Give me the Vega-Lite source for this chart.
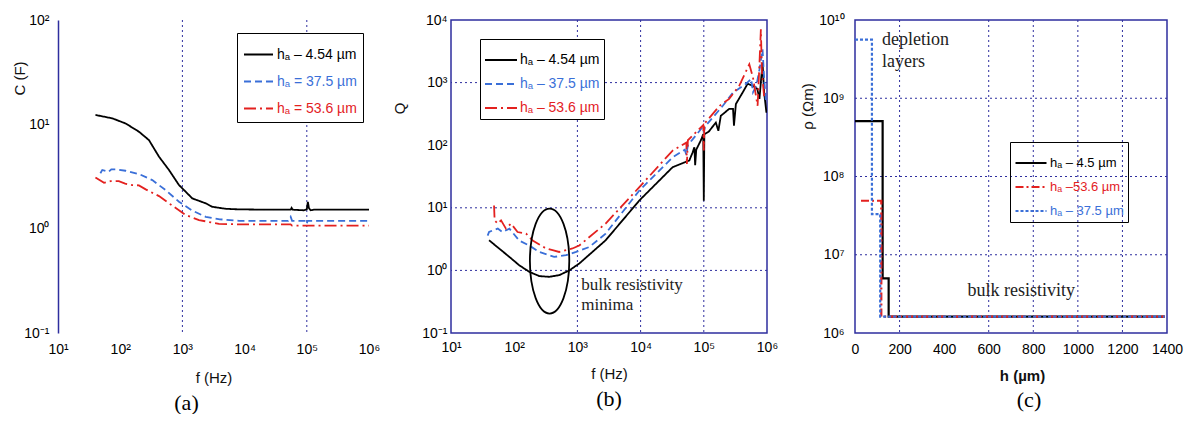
{
  "$schema": "https://vega.github.io/schema/vega-lite/v6.json",
  "padding": {"left": 12, "top": 12, "right": 0, "bottom": 0},
  "background": "white",
  "datasets": {
    "a": [
      {"f": 40, "C": 12.3, "s": "hₐ – 4.54 µm"}, {"f": 75, "C": 11.4, "s": "hₐ – 4.54 µm"}, {"f": 122, "C": 10.2, "s": "hₐ – 4.54 µm"},
      {"f": 200, "C": 8.5, "s": "hₐ – 4.54 µm"}, {"f": 290, "C": 7.06, "s": "hₐ – 4.54 µm"}, {"f": 421, "C": 4.89, "s": "hₐ – 4.54 µm"},
      {"f": 609, "C": 3.65, "s": "hₐ – 4.54 µm"}, {"f": 881, "C": 2.62, "s": "hₐ – 4.54 µm"}, {"f": 1443, "C": 1.95, "s": "hₐ – 4.54 µm"},
      {"f": 2370, "C": 1.75, "s": "hₐ – 4.54 µm"}, {"f": 3020, "C": 1.62, "s": "hₐ – 4.54 µm"}, {"f": 5000, "C": 1.55, "s": "hₐ – 4.54 µm"},
      {"f": 8130, "C": 1.53, "s": "hₐ – 4.54 µm"}, {"f": 30000, "C": 1.52, "s": "hₐ – 4.54 µm"}, {"f": 55000, "C": 1.52, "s": "hₐ – 4.54 µm"},
      {"f": 57000, "C": 1.58, "s": "hₐ – 4.54 µm"}, {"f": 59000, "C": 1.52, "s": "hₐ – 4.54 µm"}, {"f": 90000, "C": 1.5, "s": "hₐ – 4.54 µm"},
      {"f": 100000, "C": 1.53, "s": "hₐ – 4.54 µm"}, {"f": 104000, "C": 1.81, "s": "hₐ – 4.54 µm"}, {"f": 108000, "C": 1.58, "s": "hₐ – 4.54 µm"},
      {"f": 115000, "C": 1.5, "s": "hₐ – 4.54 µm"}, {"f": 130000, "C": 1.52, "s": "hₐ – 4.54 µm"}, {"f": 300000, "C": 1.52, "s": "hₐ – 4.54 µm"},
      {"f": 1000000, "C": 1.52, "s": "hₐ – 4.54 µm"},
      {"f": 48, "C": 3.4, "s": "hₐ = 37.5 µm"}, {"f": 51.5, "C": 3.65, "s": "hₐ = 37.5 µm"}, {"f": 65, "C": 3.5, "s": "hₐ = 37.5 µm"},
      {"f": 72, "C": 3.7, "s": "hₐ = 37.5 µm"}, {"f": 85, "C": 3.71, "s": "hₐ = 37.5 µm"}, {"f": 122, "C": 3.59, "s": "hₐ = 37.5 µm"},
      {"f": 200, "C": 3.34, "s": "hₐ = 37.5 µm"}, {"f": 328, "C": 2.92, "s": "hₐ = 37.5 µm"}, {"f": 538, "C": 2.34, "s": "hₐ = 37.5 µm"},
      {"f": 881, "C": 1.81, "s": "hₐ = 37.5 µm"}, {"f": 1443, "C": 1.49, "s": "hₐ = 37.5 µm"}, {"f": 2370, "C": 1.3, "s": "hₐ = 37.5 µm"},
      {"f": 4000, "C": 1.23, "s": "hₐ = 37.5 µm"}, {"f": 8130, "C": 1.19, "s": "hₐ = 37.5 µm"}, {"f": 50000, "C": 1.19, "s": "hₐ = 37.5 µm"},
      {"f": 55000, "C": 1.3, "s": "hₐ = 37.5 µm"}, {"f": 58000, "C": 1.19, "s": "hₐ = 37.5 µm"}, {"f": 98000, "C": 1.19, "s": "hₐ = 37.5 µm"},
      {"f": 100000, "C": 1.12, "s": "hₐ = 37.5 µm"}, {"f": 103000, "C": 1.19, "s": "hₐ = 37.5 µm"}, {"f": 1000000, "C": 1.19, "s": "hₐ = 37.5 µm"},
      {"f": 40, "C": 3.1, "s": "hₐ = 53.6 µm"}, {"f": 55, "C": 2.75, "s": "hₐ = 53.6 µm"}, {"f": 70, "C": 2.85, "s": "hₐ = 53.6 µm"},
      {"f": 95, "C": 2.86, "s": "hₐ = 53.6 µm"}, {"f": 120, "C": 2.7, "s": "hₐ = 53.6 µm"}, {"f": 157, "C": 2.62, "s": "hₐ = 53.6 µm"},
      {"f": 200, "C": 2.6, "s": "hₐ = 53.6 µm"}, {"f": 257, "C": 2.38, "s": "hₐ = 53.6 µm"}, {"f": 421, "C": 2.05, "s": "hₐ = 53.6 µm"},
      {"f": 609, "C": 1.75, "s": "hₐ = 53.6 µm"}, {"f": 1130, "C": 1.35, "s": "hₐ = 53.6 µm"}, {"f": 1850, "C": 1.21, "s": "hₐ = 53.6 µm"},
      {"f": 3870, "C": 1.11, "s": "hₐ = 53.6 µm"}, {"f": 8130, "C": 1.1, "s": "hₐ = 53.6 µm"}, {"f": 55000, "C": 1.1, "s": "hₐ = 53.6 µm"},
      {"f": 58000, "C": 1.07, "s": "hₐ = 53.6 µm"}, {"f": 1000000, "C": 1.07, "s": "hₐ = 53.6 µm"}
    ],
    "b": [
      {"f": 40, "Q": 3.03, "s": "hₐ – 4.54 µm"}, {"f": 58, "Q": 2.23, "s": "hₐ – 4.54 µm"}, {"f": 84, "Q": 1.64, "s": "hₐ – 4.54 µm"},
      {"f": 120, "Q": 1.21, "s": "hₐ – 4.54 µm"}, {"f": 173, "Q": 0.95, "s": "hₐ – 4.54 µm"}, {"f": 250, "Q": 0.81, "s": "hₐ – 4.54 µm"},
      {"f": 359, "Q": 0.79, "s": "hₐ – 4.54 µm"}, {"f": 517, "Q": 0.84, "s": "hₐ – 4.54 µm"}, {"f": 745, "Q": 1.0, "s": "hₐ – 4.54 µm"},
      {"f": 1072, "Q": 1.29, "s": "hₐ – 4.54 µm"}, {"f": 2800, "Q": 3.03, "s": "hₐ – 4.54 µm"}, {"f": 9560, "Q": 13.1, "s": "hₐ – 4.54 µm"},
      {"f": 32100, "Q": 44.5, "s": "hₐ – 4.54 µm"}, {"f": 59000, "Q": 57, "s": "hₐ – 4.54 µm"}, {"f": 66000, "Q": 75, "s": "hₐ – 4.54 µm"},
      {"f": 71000, "Q": 93, "s": "hₐ – 4.54 µm"}, {"f": 73000, "Q": 48, "s": "hₐ – 4.54 µm"}, {"f": 76000, "Q": 85, "s": "hₐ – 4.54 µm"},
      {"f": 90000, "Q": 120, "s": "hₐ – 4.54 µm"}, {"f": 98000, "Q": 150, "s": "hₐ – 4.54 µm"}, {"f": 100000, "Q": 13, "s": "hₐ – 4.54 µm"},
      {"f": 102000, "Q": 150, "s": "hₐ – 4.54 µm"}, {"f": 120000, "Q": 165, "s": "hₐ – 4.54 µm"}, {"f": 155000, "Q": 230, "s": "hₐ – 4.54 µm"},
      {"f": 170000, "Q": 170, "s": "hₐ – 4.54 µm"}, {"f": 186000, "Q": 295, "s": "hₐ – 4.54 µm"}, {"f": 252000, "Q": 380, "s": "hₐ – 4.54 µm"},
      {"f": 290000, "Q": 380, "s": "hₐ – 4.54 µm"}, {"f": 300000, "Q": 205, "s": "hₐ – 4.54 µm"}, {"f": 322000, "Q": 455, "s": "hₐ – 4.54 µm"},
      {"f": 410000, "Q": 690, "s": "hₐ – 4.54 µm"}, {"f": 494000, "Q": 960, "s": "hₐ – 4.54 µm"}, {"f": 590000, "Q": 890, "s": "hₐ – 4.54 µm"},
      {"f": 700000, "Q": 800, "s": "hₐ – 4.54 µm"}, {"f": 760000, "Q": 550, "s": "hₐ – 4.54 µm"}, {"f": 850000, "Q": 2090, "s": "hₐ – 4.54 µm"},
      {"f": 900000, "Q": 700, "s": "hₐ – 4.54 µm"}, {"f": 980000, "Q": 330, "s": "hₐ – 4.54 µm"},
      {"f": 38, "Q": 3.6, "s": "hₐ – 37.5 µm"}, {"f": 40, "Q": 4.1, "s": "hₐ – 37.5 µm"}, {"f": 47, "Q": 4.4, "s": "hₐ – 37.5 µm"},
      {"f": 55, "Q": 4.65, "s": "hₐ – 37.5 µm"}, {"f": 65, "Q": 4.1, "s": "hₐ – 37.5 µm"}, {"f": 84, "Q": 4.65, "s": "hₐ – 37.5 µm"},
      {"f": 120, "Q": 3.0, "s": "hₐ – 37.5 µm"}, {"f": 173, "Q": 2.5, "s": "hₐ – 37.5 µm"}, {"f": 250, "Q": 1.97, "s": "hₐ – 37.5 µm"},
      {"f": 428, "Q": 1.64, "s": "hₐ – 37.5 µm"}, {"f": 660, "Q": 1.75, "s": "hₐ – 37.5 µm"}, {"f": 955, "Q": 1.97, "s": "hₐ – 37.5 µm"},
      {"f": 1550, "Q": 2.37, "s": "hₐ – 37.5 µm"}, {"f": 2800, "Q": 3.87, "s": "hₐ – 37.5 µm"}, {"f": 9560, "Q": 18.9, "s": "hₐ – 37.5 µm"},
      {"f": 32100, "Q": 64, "s": "hₐ – 37.5 µm"}, {"f": 50000, "Q": 85, "s": "hₐ – 37.5 µm"}, {"f": 53000, "Q": 70, "s": "hₐ – 37.5 µm"},
      {"f": 56000, "Q": 100, "s": "hₐ – 37.5 µm"}, {"f": 95000, "Q": 193, "s": "hₐ – 37.5 µm"}, {"f": 100000, "Q": 160, "s": "hₐ – 37.5 µm"},
      {"f": 105000, "Q": 200, "s": "hₐ – 37.5 µm"}, {"f": 200000, "Q": 426, "s": "hₐ – 37.5 µm"}, {"f": 288000, "Q": 690, "s": "hₐ – 37.5 µm"},
      {"f": 468000, "Q": 960, "s": "hₐ – 37.5 µm"}, {"f": 562000, "Q": 1150, "s": "hₐ – 37.5 µm"}, {"f": 600000, "Q": 700, "s": "hₐ – 37.5 µm"},
      {"f": 680000, "Q": 900, "s": "hₐ – 37.5 µm"}, {"f": 760000, "Q": 1620, "s": "hₐ – 37.5 µm"}, {"f": 850000, "Q": 3400, "s": "hₐ – 37.5 µm"},
      {"f": 900000, "Q": 1200, "s": "hₐ – 37.5 µm"}, {"f": 960000, "Q": 500, "s": "hₐ – 37.5 µm"},
      {"f": 48, "Q": 10.9, "s": "hₐ – 53.6 µm"}, {"f": 49, "Q": 6.3, "s": "hₐ – 53.6 µm"}, {"f": 55, "Q": 5.6, "s": "hₐ – 53.6 µm"},
      {"f": 62, "Q": 6.3, "s": "hₐ – 53.6 µm"}, {"f": 74, "Q": 4.65, "s": "hₐ – 53.6 µm"}, {"f": 89, "Q": 5.6, "s": "hₐ – 53.6 µm"},
      {"f": 113, "Q": 4.1, "s": "hₐ – 53.6 µm"}, {"f": 154, "Q": 3.87, "s": "hₐ – 53.6 µm"}, {"f": 196, "Q": 3.0, "s": "hₐ – 53.6 µm"},
      {"f": 250, "Q": 2.6, "s": "hₐ – 53.6 µm"}, {"f": 318, "Q": 2.24, "s": "hₐ – 53.6 µm"}, {"f": 405, "Q": 2.1, "s": "hₐ – 53.6 µm"},
      {"f": 515, "Q": 1.97, "s": "hₐ – 53.6 µm"}, {"f": 835, "Q": 2.24, "s": "hₐ – 53.6 µm"}, {"f": 1070, "Q": 2.5, "s": "hₐ – 53.6 µm"},
      {"f": 2800, "Q": 5.6, "s": "hₐ – 53.6 µm"}, {"f": 9560, "Q": 21.4, "s": "hₐ – 53.6 µm"}, {"f": 32100, "Q": 82, "s": "hₐ – 53.6 µm"},
      {"f": 53000, "Q": 110, "s": "hₐ – 53.6 µm"}, {"f": 54000, "Q": 50, "s": "hₐ – 53.6 µm"}, {"f": 56000, "Q": 120, "s": "hₐ – 53.6 µm"},
      {"f": 98000, "Q": 210, "s": "hₐ – 53.6 µm"}, {"f": 100000, "Q": 82, "s": "hₐ – 53.6 µm"}, {"f": 102000, "Q": 220, "s": "hₐ – 53.6 µm"},
      {"f": 178000, "Q": 426, "s": "hₐ – 53.6 µm"}, {"f": 252000, "Q": 550, "s": "hₐ – 53.6 µm"}, {"f": 363000, "Q": 890, "s": "hₐ – 53.6 µm"},
      {"f": 525000, "Q": 1960, "s": "hₐ – 53.6 µm"}, {"f": 600000, "Q": 1200, "s": "hₐ – 53.6 µm"}, {"f": 710000, "Q": 426, "s": "hₐ – 53.6 µm"},
      {"f": 760000, "Q": 2000, "s": "hₐ – 53.6 µm"}, {"f": 800000, "Q": 7100, "s": "hₐ – 53.6 µm"}, {"f": 830000, "Q": 1500, "s": "hₐ – 53.6 µm"},
      {"f": 900000, "Q": 600, "s": "hₐ – 53.6 µm"}, {"f": 960000, "Q": 615, "s": "hₐ – 53.6 µm"}
    ],
    "c": [
      {"h": 0, "r": 510000000, "s": "hₐ – 4.5 µm"}, {"h": 124, "r": 5000000, "s": "hₐ – 4.5 µm"},
      {"h": 151, "r": 1620000, "s": "hₐ – 4.5 µm"}, {"h": 1390, "r": 1620000, "s": "hₐ – 4.5 µm"},
      {"h": 27, "r": 49000000, "s": "hₐ –53.6 µm"}, {"h": 118, "r": 1620000, "s": "hₐ –53.6 µm"},
      {"h": 1390, "r": 1620000, "s": "hₐ –53.6 µm"},
      {"h": 0, "r": 5600000000, "s": "hₐ – 37.5 µm"}, {"h": 76, "r": 33000000, "s": "hₐ – 37.5 µm"},
      {"h": 113, "r": 1620000, "s": "hₐ – 37.5 µm"}, {"h": 1390, "r": 1620000, "s": "hₐ – 37.5 µm"}
    ]
  },
  "hconcat": [
    {
      "width": 311, "height": 313,
      "view": {"stroke": null},
      "title": {"text": "(a)", "orient": "bottom", "dx": -27, "offset": 8},
      "layer": [
        {
          "data": {"values": [{"f": 1000}, {"f": 100000}]},
          "mark": {"type": "rule", "color": "#2e2e9e", "strokeDash": [2, 3], "strokeWidth": 1},
          "encoding": {"x": {"field": "f", "type": "quantitative", "scale": {"type": "log", "domain": [10, 1000000], "nice": false}}}
        },
        {
          "data": {"name": "a"},
          "mark": {"type": "line", "strokeWidth": 1.8, "clip": true},
          "encoding": {
            "x": {"field": "f", "type": "quantitative", "scale": {"type": "log", "domain": [10, 1000000], "nice": false},
              "axis": {"title": "f (Hz)", "values": [10, 100, 1000, 10000, 100000, 1000000], "labelPadding": 9, "titlePadding": 14,
                "labelExpr": "'10' + replace(replace(replace(replace(replace(replace(replace(replace(replace(replace(replace(toString(round(log(datum.value)/LN10)),'-','⁻'),'0','⁰'),'1','¹'),'2','²'),'3','³'),'4','⁴'),'5','⁵'),'6','⁶'),'7','⁷'),'8','⁸'),'9','⁹')"}},
            "y": {"field": "C", "type": "quantitative", "scale": {"type": "log", "domain": [0.1, 100], "nice": false},
              "axis": {"title": "C (F)", "values": [0.1, 1, 10, 100], "labelPadding": 9, "domain": true, "domainColor": "#2e2e9e", "domainWidth": 1.5,
                "titleX": -39, "titleY": 58, "titleAngle": 270, "titleAlign": "center", "titleBaseline": "middle",
                "labelExpr": "'10' + replace(replace(replace(replace(replace(replace(replace(replace(replace(replace(replace(toString(round(log(datum.value)/LN10)),'-','⁻'),'0','⁰'),'1','¹'),'2','²'),'3','³'),'4','⁴'),'5','⁵'),'6','⁶'),'7','⁷'),'8','⁸'),'9','⁹')"}},
            "color": {"field": "s", "type": "nominal",
              "scale": {"domain": ["hₐ – 4.54 µm", "hₐ = 37.5 µm", "hₐ = 53.6 µm"], "range": ["#000000", "#3a6fd8", "#e3211f"]},
              "legend": {"orient": "none", "legendX": 179, "legendY": 13, "title": null, "symbolType": "stroke", "symbolSize": 841, "symbolStrokeWidth": 1.8,
                "labelFontSize": 14, "strokeColor": "#000", "fillColor": "#fff", "padding": 6, "rowPadding": 4, "labelOffset": 3,
                "labelColor": {"expr": "indexof(datum.value,'37.5')>=0 ? '#3a6fd8' : indexof(datum.value,'53.6')>=0 ? '#e3211f' : '#000'"}}},
            "strokeDash": {"field": "s", "type": "nominal",
              "scale": {"domain": ["hₐ – 4.54 µm", "hₐ = 37.5 µm", "hₐ = 53.6 µm"], "range": [[1, 0], [7, 4], [12, 4, 2, 4]]},
              "legend": {"orient": "none", "legendX": 179, "legendY": 13, "title": null, "symbolType": "stroke", "symbolSize": 841, "symbolStrokeWidth": 1.8,
                "labelFontSize": 14, "strokeColor": "#000", "fillColor": "#fff", "padding": 6, "rowPadding": 4, "labelOffset": 3,
                "labelColor": {"expr": "indexof(datum.value,'37.5')>=0 ? '#3a6fd8' : indexof(datum.value,'53.6')>=0 ? '#e3211f' : '#000'"}}}
          }
        }
      ]
    },
    {
      "spacing": 88,
      "bounds": "flush",
      "resolve": {"scale": {"x": "independent", "y": "independent", "color": "independent", "strokeDash": "independent"}, "legend": {"color": "independent", "strokeDash": "independent"}},
      "hconcat": [
        {
          "width": 316, "height": 313,
          "title": {"text": "(b)", "orient": "bottom", "offset": 8},
          "layer": [
            {
              "data": {"values": [{"f": 1000}, {"f": 10000}, {"f": 100000}]},
              "mark": {"type": "rule", "color": "#2e2e9e", "strokeDash": [2, 3], "strokeWidth": 1},
              "encoding": {"x": {"field": "f", "type": "quantitative", "scale": {"type": "log", "domain": [10, 1000000], "nice": false}}}
            },
            {
              "data": {"values": [{"Q": 1}, {"Q": 10}, {"Q": 1000}]},
              "mark": {"type": "rule", "color": "#2e2e9e", "strokeDash": [2, 3], "strokeWidth": 1},
              "encoding": {"y": {"field": "Q", "type": "quantitative", "scale": {"type": "log", "domain": [0.1, 10000], "nice": false}}}
            },
            {
              "data": {"name": "b"},
              "mark": {"type": "line", "strokeWidth": 1.8, "clip": true},
              "encoding": {
                "x": {"field": "f", "type": "quantitative", "scale": {"type": "log", "domain": [10, 1000000], "nice": false},
                  "axis": {"title": "f (Hz)", "values": [10, 100, 1000, 10000, 100000, 1000000], "labelPadding": 7, "titlePadding": 12,
                    "labelExpr": "'10' + replace(replace(replace(replace(replace(replace(replace(replace(replace(replace(replace(toString(round(log(datum.value)/LN10)),'-','⁻'),'0','⁰'),'1','¹'),'2','²'),'3','³'),'4','⁴'),'5','⁵'),'6','⁶'),'7','⁷'),'8','⁸'),'9','⁹')"}},
                "y": {"field": "Q", "type": "quantitative", "scale": {"type": "log", "domain": [0.1, 10000], "nice": false},
                  "axis": {"title": "Q", "values": [0.1, 1, 10, 100, 1000, 10000], "labelPadding": 4,
                    "titleX": -52, "titleY": 88, "titleAngle": 270, "titleAlign": "center", "titleBaseline": "middle",
                    "labelExpr": "'10' + replace(replace(replace(replace(replace(replace(replace(replace(replace(replace(replace(toString(round(log(datum.value)/LN10)),'-','⁻'),'0','⁰'),'1','¹'),'2','²'),'3','³'),'4','⁴'),'5','⁵'),'6','⁶'),'7','⁷'),'8','⁸'),'9','⁹')"}},
                "color": {"field": "s", "type": "nominal",
                  "scale": {"domain": ["hₐ – 4.54 µm", "hₐ – 37.5 µm", "hₐ – 53.6 µm"], "range": ["#000000", "#3a6fd8", "#e3211f"]},
                  "legend": {"orient": "none", "legendX": 29, "legendY": 19, "title": null, "symbolType": "stroke", "symbolSize": 1024, "symbolStrokeWidth": 1.8,
                    "labelFontSize": 14, "strokeColor": "#000", "fillColor": "#fff", "padding": 4, "rowPadding": 0, "labelOffset": 2,
                    "labelColor": {"expr": "indexof(datum.value,'37.5')>=0 ? '#3a6fd8' : indexof(datum.value,'53.6')>=0 ? '#e3211f' : '#000'"}}},
                "strokeDash": {"field": "s", "type": "nominal",
                  "scale": {"domain": ["hₐ – 4.54 µm", "hₐ – 37.5 µm", "hₐ – 53.6 µm"], "range": [[1, 0], [7, 4], [12, 4, 2, 4]]},
                  "legend": {"orient": "none", "legendX": 29, "legendY": 19, "title": null, "symbolType": "stroke", "symbolSize": 1024, "symbolStrokeWidth": 1.8,
                    "labelFontSize": 14, "strokeColor": "#000", "fillColor": "#fff", "padding": 4, "rowPadding": 0, "labelOffset": 2,
                    "labelColor": {"expr": "indexof(datum.value,'37.5')>=0 ? '#3a6fd8' : indexof(datum.value,'53.6')>=0 ? '#e3211f' : '#000'"}}}
              }
            },
            {
              "data": {"values": [{"f": 363, "Q": 1.41}]},
              "mark": {"type": "point", "shape": "M0,-1A0.375,1 0 1,1 0,1A0.375,1 0 1,1 0,-1Z", "size": 11025, "filled": false, "stroke": "#000", "strokeWidth": 1.8, "opacity": 1},
              "encoding": {"x": {"field": "f", "type": "quantitative"}, "y": {"field": "Q", "type": "quantitative"}}
            },
            {
              "data": {"values": [{"f": 1153, "Q": 0.58, "t": "bulk resistivity"}, {"f": 1153, "Q": 0.279, "t": "minima"}]},
              "mark": {"type": "text", "align": "left", "baseline": "middle", "font": "Liberation Serif", "fontSize": 17, "color": "#222"},
              "encoding": {"x": {"field": "f", "type": "quantitative"}, "y": {"field": "Q", "type": "quantitative"}, "text": {"field": "t"}}
            }
          ]
        },
        {
          "width": 312, "height": 313,
          "title": {"text": "(c)", "orient": "bottom", "dx": 18, "offset": 7},
          "layer": [
            {
              "data": {"values": [{"h": 200}, {"h": 600}, {"h": 800}, {"h": 1000}, {"h": 1200}]},
              "mark": {"type": "rule", "color": "#2e2e9e", "strokeDash": [2, 3], "strokeWidth": 1},
              "encoding": {"x": {"field": "h", "type": "quantitative", "scale": {"domain": [0, 1400], "nice": false}}}
            },
            {
              "data": {"values": [{"r": 10000000}, {"r": 100000000}, {"r": 1000000000}]},
              "mark": {"type": "rule", "color": "#2e2e9e", "strokeDash": [2, 3], "strokeWidth": 1},
              "encoding": {"y": {"field": "r", "type": "quantitative", "scale": {"type": "log", "domain": [1000000, 10000000000], "nice": false}}}
            },
            {
              "data": {"name": "c"},
              "mark": {"type": "line", "strokeWidth": 2.2, "interpolate": "step-after", "clip": true},
              "encoding": {
                "x": {"field": "h", "type": "quantitative", "scale": {"domain": [0, 1400], "nice": false},
                  "axis": {"title": "h (µm)", "values": [0, 200, 400, 600, 800, 1000, 1200, 1400], "format": "d", "labelOverlap": false, "labelPadding": 9, "titlePadding": 12, "titleX": 167, "titleFontWeight": "bold"}},
                "y": {"field": "r", "type": "quantitative", "scale": {"type": "log", "domain": [1000000, 10000000000], "nice": false},
                  "axis": {"title": "ρ (Ωm)", "values": [1000000, 10000000, 100000000, 1000000000, 10000000000], "labelPadding": 11,
                    "titleX": -48, "titleY": 86, "titleAngle": 270, "titleAlign": "center", "titleBaseline": "middle",
                    "labelExpr": "'10' + replace(replace(replace(replace(replace(replace(replace(replace(replace(replace(replace(toString(round(log(datum.value)/LN10)),'-','⁻'),'0','⁰'),'1','¹'),'2','²'),'3','³'),'4','⁴'),'5','⁵'),'6','⁶'),'7','⁷'),'8','⁸'),'9','⁹')"}},
                "color": {"field": "s", "type": "nominal",
                  "scale": {"domain": ["hₐ – 4.5 µm", "hₐ –53.6 µm", "hₐ – 37.5 µm"], "range": ["#000000", "#e3211f", "#3a6fd8"]},
                  "legend": {"orient": "none", "legendX": 155, "legendY": 122, "title": null, "symbolType": "stroke", "symbolSize": 961, "symbolStrokeWidth": 2.2,
                    "labelFontSize": 13, "strokeColor": "#000", "padding": 4, "rowPadding": -4, "labelOffset": 2,
                    "labelColor": {"expr": "indexof(datum.value,'37.5')>=0 ? '#3a6fd8' : indexof(datum.value,'53.6')>=0 ? '#e3211f' : '#000'"}}},
                "strokeDash": {"field": "s", "type": "nominal",
                  "scale": {"domain": ["hₐ – 4.5 µm", "hₐ –53.6 µm", "hₐ – 37.5 µm"], "range": [[1, 0], [8, 3, 2, 3], [3, 2]]},
                  "legend": {"orient": "none", "legendX": 155, "legendY": 122, "title": null, "symbolType": "stroke", "symbolSize": 961, "symbolStrokeWidth": 2.2,
                    "labelFontSize": 13, "strokeColor": "#000", "padding": 4, "rowPadding": -4, "labelOffset": 2,
                    "labelColor": {"expr": "indexof(datum.value,'37.5')>=0 ? '#3a6fd8' : indexof(datum.value,'53.6')>=0 ? '#e3211f' : '#000'"}}}
              }
            },
            {
              "data": {"values": [{"h": 121, "r": 5550000000, "t": "depletion"}, {"h": 121, "r": 2910000000, "t": "layers"}, {"h": 505, "r": 3430000, "t": "bulk resistivity"}]},
              "mark": {"type": "text", "align": "left", "baseline": "middle", "font": "Liberation Serif", "fontSize": 18, "color": "#222"},
              "encoding": {"x": {"field": "h", "type": "quantitative"}, "y": {"field": "r", "type": "quantitative"}, "text": {"field": "t"}}
            }
          ]
        }
      ]
    }
  ],
  "spacing": 82,
  "bounds": "flush",
  "resolve": {"scale": {"x": "independent", "y": "independent", "color": "independent", "strokeDash": "independent"}, "legend": {"color": "independent", "strokeDash": "independent"}},
  "config": {
    "font": "Liberation Sans",
    "view": {"stroke": "#2e2e9e", "strokeWidth": 1.5},
    "axis": {"labelFont": "Liberation Sans", "labelFontSize": 14, "labelColor": "#000", "titleFont": "Liberation Sans", "titleFontSize": 15,
      "titleFontWeight": "normal", "titleColor": "#111", "ticks": false, "domain": false, "grid": false, "labelFlush": false},
    "legend": {"labelFont": "Liberation Sans", "labelLimit": 300},
    "title": {"font": "Liberation Serif", "fontSize": 22, "fontWeight": "normal", "color": "#000", "anchor": "middle"}
  }
}
